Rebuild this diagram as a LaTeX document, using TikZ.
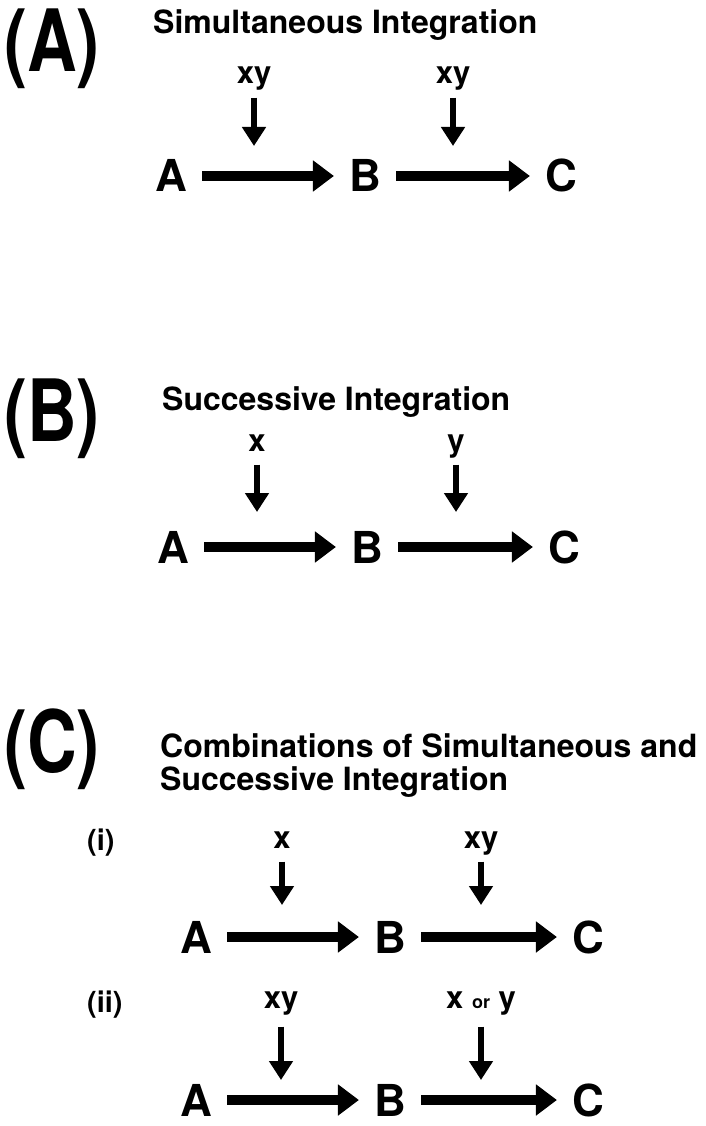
\documentclass[tikz,border=0pt]{standalone}
\usepackage{fontspec}
\setmainfont{TeX Gyre Heros}
\newfontfamily\panelfont{TeX Gyre Heros}[FakeStretch=0.8]
\usetikzlibrary{arrows.meta}
\begin{document}
\begin{tikzpicture}[x=1pt,y=1pt,
  panel/.style={font=\panelfont\bfseries\fontsize{86}{86}\selectfont, inner sep=0pt, anchor=north west},
  head/.style={font=\bfseries\fontsize{32}{33}\selectfont, inner sep=0pt, anchor=base west, align=left},
  sub/.style={font=\bfseries\fontsize{29}{29}\selectfont, inner sep=0pt, anchor=base west},
  letter/.style={font=\bfseries\fontsize{44}{44}\selectfont, text height=32pt, text depth=0pt, inner xsep=15pt, inner ysep=0pt},
  lab/.style={font=\bfseries\fontsize{31}{31}\selectfont, text height=16pt, text depth=6.5pt, inner xsep=0pt, inner ysep=7pt, anchor=base},
  harrow/.style={line width=9.5pt, -{Triangle[length=21pt,width=30pt]}},
  varrow/.style={line width=6pt, -{Triangle[length=19pt,width=23pt]}}]
\useasboundingbox[fill=white] (0,0) rectangle (706,-1126);

% ---------- (A)
\node[panel] (pA) at (4,-9) {(A)};
\node[head] (hA) at (153,-34) {Simultaneous Integration};
\node[lab] (lA1) at (254,-84) {xy};
\node[lab] (lA2) at (453,-84) {xy};
\coordinate (tA1) at (254,-146);
\coordinate (tA2) at (453,-146);
\draw[varrow] (lA1) -- (tA1);
\draw[varrow] (lA2) -- (tA2);
\node[letter] (aA) at (171,-176) {A};
\node[letter] (bA) at (365,-176) {B};
\node[letter] (cA) at (561,-176) {C};
\draw[harrow] (aA) -- (bA);
\draw[harrow] (bA) -- (cA);

% ---------- (B)
\node[panel] (pB) at (4,-379) {(B)};
\node[head] (hB) at (162,-410) {Successive Integration};
\node[lab] (lB1) at (257,-451) {x};
\node[lab] (lB2) at (456,-451) {y};
\coordinate (tB1) at (257,-512);
\coordinate (tB2) at (456,-512);
\draw[varrow] (lB1) -- (tB1);
\draw[varrow] (lB2) -- (tB2);
\node[letter] (aB) at (173,-547) {A};
\node[letter] (bB) at (367,-547) {B};
\node[letter] (cB) at (564,-547) {C};
\draw[harrow] (aB) -- (bB);
\draw[harrow] (bB) -- (cB);

% ---------- (C)
\node[panel] (pC) at (4,-709) {(C)};
\node[head] (hC) at (160,-790) {Combinations of Simultaneous and\\Successive Integration};
\node[sub] (ci) at (87,-850) {(i)};
\node[lab] (lC1) at (282,-848) {x};
\node[lab] (lC2) at (481,-848) {xy};
\coordinate (tC1) at (282,-905);
\coordinate (tC2) at (481,-905);
\draw[varrow] (lC1) -- (tC1);
\draw[varrow] (lC2) -- (tC2);
\node[letter] (aC) at (196,-937) {A};
\node[letter] (bC) at (390,-937) {B};
\node[letter] (cC) at (588,-937) {C};
\draw[harrow] (aC) -- (bC);
\draw[harrow] (bC) -- (cC);

\node[sub] (cii) at (87,-1012) {(ii)};
\node[lab] (lD1) at (281,-1008) {xy};
\node[lab] (lD2) at (481,-1008) {x {\fontsize{18}{18}\selectfont or} y};
\coordinate (tD1) at (281,-1080);
\coordinate (tD2) at (481,-1080);
\draw[varrow, shorten <=5pt] (lD1) -- (tD1);
\draw[varrow, shorten <=5pt] (lD2) -- (tD2);
\node[letter] (aD) at (196,-1100) {A};
\node[letter] (bD) at (390,-1100) {B};
\node[letter] (cD) at (588,-1100) {C};
\draw[harrow] (aD) -- (bD);
\draw[harrow] (bD) -- (cD);
\end{tikzpicture}
\end{document}
